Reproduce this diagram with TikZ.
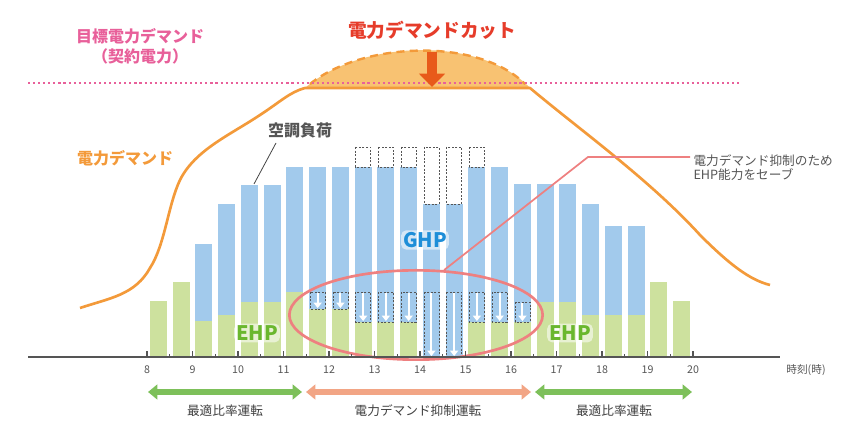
\documentclass[tikz,border=0pt]{standalone}
\usepackage{fontspec}
\setmainfont{Noto Sans CJK JP}
\usetikzlibrary{arrows.meta,shapes.geometric}
\definecolor{cblue}{HTML}{A2CAEC}
\definecolor{cgreen}{HTML}{CDE19E}
\definecolor{corange}{HTML}{F39A3A}
\definecolor{cfill}{HTML}{F8C272}
\definecolor{cpink}{HTML}{E8609A}
\definecolor{cred}{HTML}{E63C2A}
\definecolor{carrow}{HTML}{E85A1A}
\definecolor{cghp}{HTML}{1E8ED8}
\definecolor{cehp}{HTML}{6AB72E}
\definecolor{cell}{HTML}{EE8080}
\definecolor{cgray}{HTML}{555555}
\definecolor{cbgreen}{HTML}{7DC05A}
\definecolor{csalmon}{HTML}{F2A585}
\tikzset{
 bluebar/.style={fill=cblue},
 greenbar/.style={fill=cgreen},
 dbox/.style={draw=cgray,dash pattern=on 1.5pt off 1.2pt,line width=0.5pt},
 warrow/.style={white,line width=1.5pt,-{Triangle[length=4pt,width=6pt]}},
 lbl/.style={font=\fontsize{9.5}{11}\selectfont,text=cgray},
 big/.style={font=\fontsize{14}{16}\selectfont\bfseries},
 hp/.style={font=\fontsize{15}{16}\selectfont\bfseries},
 bigarrow/.style={line width=4pt,{Triangle[length=7pt,width=11pt]}-{Triangle[length=7pt,width=11pt]}}
}
\begin{document}
\begin{tikzpicture}[x=0.75pt,y=-0.75pt]
\useasboundingbox (0,0) rectangle (858,423);
\foreach \i/\bt/\gt in {0/301/301,1/282/282,2/244/321,3/204/315,4/185/302,5/185/302,6/167/292,
 7/167/309,8/167/309,9/167/322,10/167/322,11/167/322,12/204/357,13/204/357,14/167/322,15/167/322,16/184/322,
 17/184/302,18/184/302,19/204/315,20/226/315,21/226/315,22/282/282,23/301/301}{
 \pgfmathsetmacro{\cx}{158.4+22.75*\i}
 \fill[bluebar] (\cx-8.5,\bt) rectangle (\cx+8.5,357);
 \ifnum\gt<357 \fill[greenbar] (\cx-8.5,\gt) rectangle (\cx+8.5,357);\fi
}
\foreach \i/\a/\b in {7/292/309,8/292/309,9/292/322,10/292/322,11/292/322,12/292/357,13/292/357,14/292/322,15/292/322,16/302/322}{
 \pgfmathsetmacro{\cx}{158.4+22.75*\i}
 \draw[dbox] (\cx-7.5,\a) rectangle (\cx+7.5,\b);
 \draw[warrow] (\cx,\a+1) -- (\cx,\b-1);
}
\foreach \i/\b in {9/167,10/167,11/167,12/204,13/204,14/167}{
 \pgfmathsetmacro{\cx}{158.4+22.75*\i}
 \draw[dbox] (\cx-7.5,147) rectangle (\cx+7.5,\b);
}
\fill[cfill] (305,88) .. controls (360,40) and (480,35) .. (530,88) -- cycle;
\draw[corange,line width=1.8pt,dash pattern=on 6pt off 4pt] (310,84) .. controls (362,42) and (478,37) .. (525,84);
\draw[cpink,line width=1.6pt,dash pattern=on 1.6pt off 2.2pt] (28,83) -- (742,83);
\draw[corange,line width=2pt,line join=round] (80,308) .. controls (110,298) and (135,295) .. (150,268)
 .. controls (165,245) and (168,205) .. (180,180) .. controls (195,150) and (230,135) .. (260,115)
 .. controls (280,102) and (290,92) .. (305,88) -- (530,88)
 .. controls (580,130) and (650,180) .. (700,235) .. controls (730,265) and (750,280) .. (770,285);
\draw[carrow,line width=7pt,-{Triangle[length=10pt,width=19pt]}] (432,52) -- (432,87);
\node[big,text=cred] (cut) at (432,30) {電力デマンドカット};
\node[font=\fontsize{12}{15}\selectfont\bfseries,text=cpink,align=center] (target) at (140,46) {目標電力デマンド\\（契約電力）};
\node[font=\fontsize{12}{14}\selectfont\bfseries,text=corange] (demand) at (125,158) {電力デマンド};
\node[font=\fontsize{12}{14}\selectfont\bfseries,text=cgray] (load) at (300,130) {空調負荷};
\coordinate (b4) at (254,184);
\draw[cgray!80!black,line width=0.6pt] (276,143) -- (b4);
\node[draw=cell,line width=2pt,ellipse,minimum width=190pt,minimum height=67pt,inner sep=0] (ell) at (416,315) {};
\coordinate (k1) at (588,157);
\draw[cell,line width=1.3pt] (ell.58) -- (k1) -- (690,157) node[anchor=west,lbl,align=left,inner sep=2pt,yshift=-8pt] (note) {電力デマンド抑制のため\\EHP能力をセーブ};
\node[hp,text=cghp,fill=white,fill opacity=0.55,text opacity=1,rounded corners=4pt,inner sep=1.5pt] (ghp) at (425,240) {GHP};
\node[hp,text=cehp,fill=white,fill opacity=0.55,text opacity=1,rounded corners=4pt,inner sep=1.5pt] (ehpa) at (257,333) {EHP};
\node[hp,text=cehp,fill=white,fill opacity=0.55,text opacity=1,rounded corners=4pt,inner sep=1.5pt] (ehpb) at (570,333) {EHP};
\draw[cgray,line width=1.2pt] (28,357) -- (780,357);
\foreach \h in {8,...,20}{
 \pgfmathsetmacro{\tx}{147+45.5*(\h-8)}
 \draw[cgray,line width=1pt] (\tx,357) -- (\tx,351);
 \node[lbl,font=\fontsize{8}{9}\selectfont] at (\tx,370) {\h};
}
\foreach \h in {0,...,11}{
 \pgfmathsetmacro{\tx}{147+45.5*(\h+0.5)}
 \draw[cgray,line width=1pt] (\tx,357) -- (\tx,354);
}
\node[lbl,font=\fontsize{8}{9}\selectfont] (tlabel) at (806,370) {時刻(時)};
\draw[bigarrow,cbgreen] (148,392) -- (302,392);
\draw[bigarrow,csalmon] (306,392) -- (531,392);
\draw[bigarrow,cbgreen] (535,392) -- (692,392);
\node[lbl,text=black!75] (m1) at (225,411) {最適比率運転};
\node[lbl,text=black!75] (m2) at (418,411) {電力デマンド抑制運転};
\node[lbl,text=black!75] (m3) at (614,411) {最適比率運転};
\end{tikzpicture}
\end{document}
